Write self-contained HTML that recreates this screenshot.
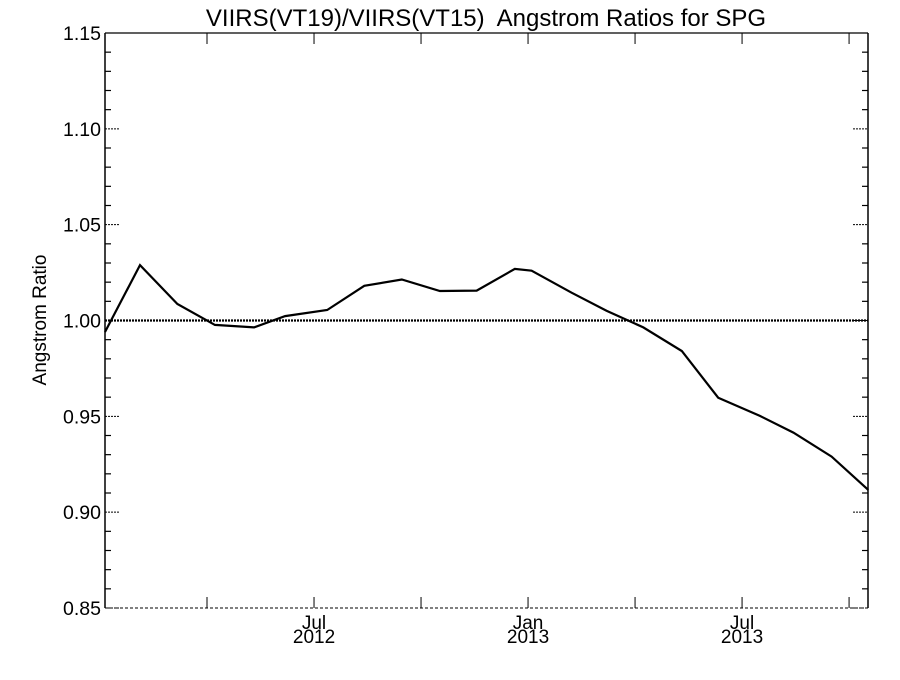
<!DOCTYPE html>
<html><head><meta charset="utf-8"><style>
body{margin:0;background:#fff}
svg text{font-family:"Liberation Sans",sans-serif;fill:#000}
</style></head><body>
<svg width="900" height="675" id="c">
<text x="486" y="26" font-size="24" text-anchor="middle" xml:space="preserve" style="white-space:pre">VIIRS(VT19)/VIIRS(VT15)  Angstrom Ratios for SPG</text>
<text transform="translate(46,320) rotate(-90)" font-size="19" text-anchor="middle">Angstrom Ratio</text>
</svg>
<script>
const months=[0.14,1.12,2.17,3.22,4.32,5.19,6.37,7.41,8.46,9.53,10.56,11.63,12.10,13.22,14.2,15.23,16.31,17.33,18.5,19.44,20.51,21.54];
const ratios=[0.994,1.0289,1.0086,0.9977,0.9964,1.0023,1.0055,1.0181,1.0214,1.0154,1.0156,1.0269,1.0260,1.0145,1.0051,0.9964,0.9841,0.9597,0.9502,0.9415,0.9290,0.9116];
const yTicks=[0.85,0.90,0.95,1.00,1.05,1.10,1.15];
const yTickLabels=["0.85","0.90","0.95","1.00","1.05","1.10","1.15"];
const xTickMonths=[3,6,9,12,15,18,21];
const xTickLabels=[["",""],["Jul","2012"],["",""],["Jan","2013"],["",""],["Jul","2013"],["",""]];
const L=105,R=868,T=33,B=608,yMin=0.85,yMax=1.15;
const xs=m=>100+m*35.67;
const ys=v=>B-(v-yMin)/(yMax-yMin)*(B-T);
const svg=document.getElementById('c'),NS='http://www.w3.org/2000/svg';
function mk(t,a,p){const e=document.createElementNS(NS,t);for(const k in a)e.setAttribute(k,a[k]);(p||svg).appendChild(e);return e;}
let e;
e=mk('line',{x1:L,y1:T,x2:R,y2:T,stroke:'#000','stroke-width':1.2});


e=mk('line',{x1:L,y1:B,x2:R,y2:B,stroke:'#000','stroke-width':1,'stroke-dasharray':'3,2'});


e=mk('line',{x1:L,y1:T,x2:L,y2:B,stroke:'#000','stroke-width':1.5});


e=mk('line',{x1:R,y1:T,x2:R,y2:B,stroke:'#000','stroke-width':1.5});


for(let i=1;i<30;i++){const v=yMin+i*0.01;if(i%5===0)continue;const y=ys(v);
mk('line',{x1:L,y1:y,x2:L+6,y2:y,stroke:'#000','stroke-width':1.2});
mk('line',{x1:R-6,y1:y,x2:R,y2:y,stroke:'#000','stroke-width':1.2});}
yTicks.forEach((v,i)=>{const y=ys(v);
mk('line',{x1:L,y1:y,x2:L+15,y2:y,stroke:'#000','stroke-width':1,'stroke-dasharray':'2,1'});
mk('line',{x1:R-15,y1:y,x2:R,y2:y,stroke:'#000','stroke-width':1,'stroke-dasharray':'2,1'});
const t=mk('text',{x:L-4,y:y+7,'font-size':19.5,'text-anchor':'end'});t.textContent=yTickLabels[i];

});
xTickMonths.forEach((m,i)=>{const x=xs(m);
mk('line',{x1:x,y1:B,x2:x,y2:B-11,stroke:'#000','stroke-width':1});
mk('line',{x1:x,y1:T,x2:x,y2:T+11,stroke:'#000','stroke-width':1});
if(xTickLabels[i][0]){const t=mk('text',{x:x,y:B+21,'font-size':19,'text-anchor':'middle'});t.textContent=xTickLabels[i][0];


const t2=mk('text',{x:x,y:B+35,'font-size':19,'text-anchor':'middle'});t2.textContent=xTickLabels[i][1];

}});
e=mk('line',{x1:L,y1:ys(1),x2:R,y2:ys(1),stroke:'#000','stroke-width':2.2,'stroke-dasharray':'2,1'});


const d=months.map((m,i)=>(i?'L':'M')+xs(m).toFixed(1)+','+ys(ratios[i]).toFixed(1)).join('');
e=mk('path',{d:d,fill:'none',stroke:'#000','stroke-width':2.2,'stroke-linejoin':'miter'});


</script>
</body></html>
